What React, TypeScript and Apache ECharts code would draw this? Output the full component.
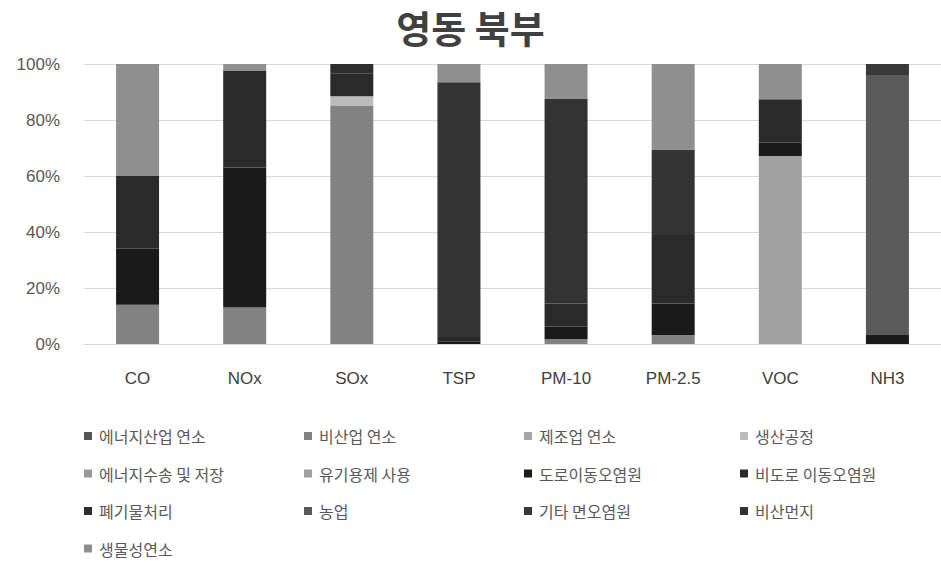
import React, { useEffect, useRef } from "react";
import * as echarts from "echarts";

const categories = ["CO", "NOx", "SOx", "TSP", "PM-10", "PM-2.5", "VOC", "NH3"];

const seriesNames = [
  "에너지산업 연소",
  "비산업 연소",
  "제조업 연소",
  "생산공정",
  "에너지수송 및 저장",
  "유기용제 사용",
  "도로이동오염원",
  "비도로 이동오염원",
  "폐기물처리",
  "농업",
  "기타 면오염원",
  "비산먼지",
  "생물성연소",
];

const energyIndustry = [0, 0, 0, 0, 0, 0, 0, 0];
const nonIndustrial = [14, 13, 85, 0, 1.7, 3.2, 0, 0];
const manufacturing = [0, 0, 0, 0, 0, 0, 0, 0];
const production = [0, 0, 3.5, 0, 0, 0, 0, 0];
const energyTransport = [0, 0, 0, 0, 0, 0, 0, 0];
const solvent = [0, 0, 0, 0, 0, 0, 67.1, 0];
const roadMobile = [20, 50, 0, 1, 4.5, 11.3, 4.8, 3.2];
const nonRoadMobile = [26, 34.5, 8, 1.5, 8.3, 24.4, 15.5, 0];
const waste = [0, 0, 3.5, 0, 0, 0, 0, 0];
const agriculture = [0, 0, 0, 0, 0, 0, 0, 92.9];
const otherArea = [0, 0, 0, 0, 0, 0, 0, 3.9];
const fugitiveDust = [0, 0, 0, 91, 73, 30.6, 0, 0];
const biomass = [40, 2.5, 0, 6.5, 12.5, 30.5, 12.6, 0];

const seriesValues = [
  energyIndustry,
  nonIndustrial,
  manufacturing,
  production,
  energyTransport,
  solvent,
  roadMobile,
  nonRoadMobile,
  waste,
  agriculture,
  otherArea,
  fugitiveDust,
  biomass,
];

const yTicks = [0, 20, 40, 60, 80, 100];

const colors = [
  "#555555",
  "#828282",
  "#a6a6a6",
  "#bbbbbb",
  "#999999",
  "#a0a0a0",
  "#1a1a1a",
  "#2a2a2a",
  "#2e2e2e",
  "#5a5a5a",
  "#383838",
  "#333333",
  "#8f8f8f",
];

export default function App() {
  const ref = useRef<HTMLDivElement>(null);
  useEffect(() => {
    if (!ref.current) return;
    const chart = echarts.init(ref.current, null, { renderer: "svg" });
    const font = "'Noto Sans CJK KR', 'Noto Sans', sans-serif";
    const columns = [0, 1, 2, 3].map((c) =>
      seriesNames.filter((_, i) => i % 4 === c)
    );
    const colLeft = [84, 304, 524, 740];
    chart.setOption({
      animation: false,
      color: colors,
      title: {
        text: "영동 북부",
        left: "center",
        top: 2,
        textStyle: {
          fontFamily: font,
          fontSize: 38,
          fontWeight: "bold",
          color: "#404040",
        },
      },
      legend: columns.map((data, c) => ({
        data,
        orient: "vertical",
        left: colLeft[c],
        top: 428,
        height: 140,
        padding: 0,
        itemWidth: 8,
        itemHeight: 8,
        itemGap: 21.5,
        icon: "rect",
        textStyle: {
          fontFamily: font,
          fontSize: 16,
          color: "#595959",
          lineHeight: 16,
          padding: [0, 0, 0, 2],
        },
      })),
      grid: { left: 84, right: -6, top: 64, bottom: 218, containLabel: false },
      xAxis: {
        type: "category",
        data: categories,
        axisTick: { show: false },
        axisLine: { show: true, lineStyle: { color: "#d9d9d9" } },
        axisLabel: {
          fontFamily: "'Liberation Sans', Arial, sans-serif",
          fontSize: 17,
          color: "#404040",
          margin: 26,
        },
      },
      yAxis: {
        type: "value",
        min: 0,
        max: 100,
        interval: 20,
        axisLine: { show: false },
        axisTick: { show: false },
        splitLine: { lineStyle: { color: "#d9d9d9" } },
        axisLabel: {
          fontFamily: "'Liberation Sans', Arial, sans-serif",
          fontSize: 17,
          color: "#595959",
          margin: 24,
          formatter: (v: number) => (yTicks.includes(v) ? v + "%" : ""),
        },
      },
      series: seriesNames.map((name, i) => ({
        name,
        type: "bar",
        stack: "total",
        barWidth: 43,
        data: seriesValues[i].map((v) => (v === 0 ? null : v)),
      })),
    });
    return () => chart.dispose();
  }, []);
  return (
    <div
      ref={ref}
      style={{ position: "fixed", left: 0, top: 0, width: 941, height: 562, background: "#fff" }}
    />
  );
}
